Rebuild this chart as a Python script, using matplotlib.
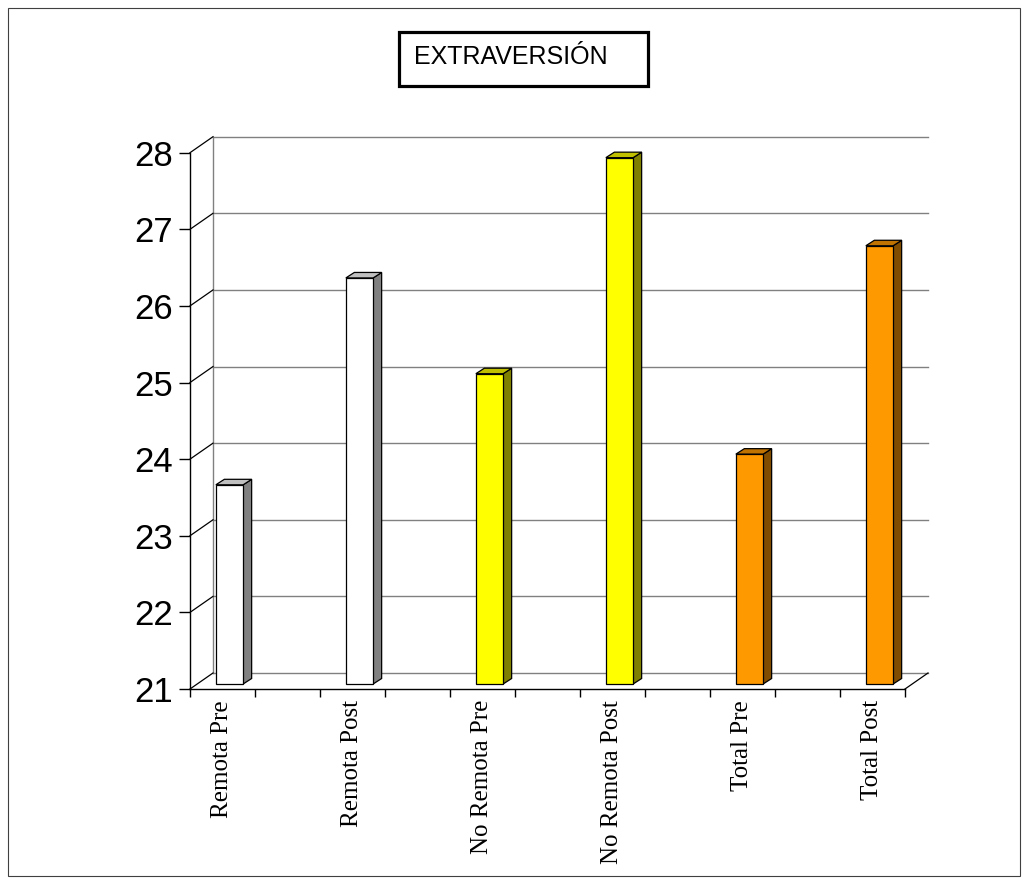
import numpy as np
import matplotlib
matplotlib.use("Agg")
import matplotlib.pyplot as plt
from matplotlib.patches import Rectangle, Polygon

# Chart data
categories = ["Remota Pre", "Remota Post", "No Remota Pre",
              "No Remota Post", "Total Pre", "Total Post"]
values = [23.6, 26.3, 25.05, 27.87, 24.0, 26.72]
y_ticks = [21, 22, 23, 24, 25, 26, 27, 28]
title = "EXTRAVERSIÓN"

# face colours per bar: (front, side, top)
palette = [
    ("#ffffff", "#808080", "#c0c0c0"),
    ("#ffffff", "#808080", "#c0c0c0"),
    ("#ffff00", "#808000", "#c0c000"),
    ("#ffff00", "#808000", "#c0c000"),
    ("#ff9900", "#804c00", "#c07300"),
    ("#ff9900", "#804c00", "#c07300"),
]

W, H, DPI = 1028, 884, 100
fig = plt.figure(figsize=(W / DPI, H / DPI), dpi=DPI)
fig.patch.set_facecolor("white")

# front plane of the 3-D box
ax = fig.add_axes([190 / W, 1 - 689 / H, 715 / W, 536.3 / H])
n_slots = 2 * len(categories) - 1
ax.set_xlim(0, n_slots)
ax.set_ylim(y_ticks[0], y_ticks[-1])
ax.set_facecolor("none")
for s in ("top", "right"):
    ax.spines[s].set_visible(False)
for s in ("left", "bottom"):
    ax.spines[s].set_color("black")
    ax.spines[s].set_linewidth(1.0)


def px(dx, dy):
    """Convert a pixel offset into data units of the axes."""
    p0 = ax.transData.transform((0, y_ticks[0]))
    q = ax.transData.inverted().transform(p0 + np.array([dx, dy]))
    return q[0] - 0, q[1] - y_ticks[0]


wall_dx, wall_dy = px(23, 16)
bar_dx, bar_dy = px(7, 5)
side_dx, side_dy = px(8.5, 5.5)

ymin, ymax = y_ticks[0], y_ticks[-1]

# back wall: gridlines and left edge
for v in y_ticks:
    ax.plot([wall_dx, n_slots + wall_dx], [v + wall_dy, v + wall_dy],
            color="#808080", lw=1.0, clip_on=False, zorder=0.5)
    # connectors from the value axis to the wall
    ax.plot([0, wall_dx], [v, v + wall_dy], color="black", lw=0.9,
            clip_on=False, zorder=0.6)
ax.plot([wall_dx, wall_dx], [ymin + wall_dy, ymax + wall_dy],
        color="#808080", lw=1.0, clip_on=False, zorder=0.5)
ax.plot([n_slots, n_slots + wall_dx], [ymin, ymin + wall_dy],
        color="black", lw=0.9, clip_on=False, zorder=0.6)

# bars
xpos = 2 * np.arange(len(categories)) + 0.5
bw = 0.42
vals = np.array(values)
front = ax.bar(xpos + bar_dx, vals - ymin, bottom=ymin + bar_dy, width=bw,
               color=[c[0] for c in palette], edgecolor="black",
               linewidth=0.9, zorder=3, clip_on=False)
for x, v, (fc, sc, tc) in zip(xpos + bar_dx, vals, palette):
    xl, xr = x - bw / 2, x + bw / 2
    yb, yt = ymin + bar_dy, v + bar_dy
    side = Polygon([(xr, yb), (xr + side_dx, yb + side_dy),
                    (xr + side_dx, yt + side_dy), (xr, yt)],
                   closed=True, facecolor=sc, edgecolor="black",
                   linewidth=0.9, zorder=2.9, clip_on=False)
    top = Polygon([(xl, yt), (xl + side_dx, yt + side_dy),
                   (xr + side_dx, yt + side_dy), (xr, yt)],
                  closed=True, facecolor=tc, edgecolor="black",
                  linewidth=0.9, zorder=2.9, clip_on=False)
    ax.add_patch(side)
    ax.add_patch(top)

# value axis ticks
ax.set_yticks(y_ticks)
ax.set_yticklabels([str(t) for t in y_ticks], fontsize=25,
                   family="Liberation Sans")
ax.tick_params(axis="y", length=8, width=1, pad=4.3, color="black")

# category axis: tick marks at slot borders, labels at bar centres
ax.set_xticks(np.arange(n_slots + 1))
ax.set_xticklabels([])
ax.tick_params(axis="x", which="major", length=5.8, width=1,
               color="black", direction="out")
ax.set_xticks(xpos, minor=True)
ax.set_xticklabels(categories, minor=True, rotation=90, fontsize=18,
                   family="Liberation Serif")
ax.tick_params(axis="x", which="minor", length=0, pad=8)

# title box
fig.patches.append(Rectangle((399 / W, 1 - 86 / H), 249 / W, 54 / H,
                             transform=fig.transFigure, fill=False,
                             edgecolor="black", linewidth=2.3))
fig.text(511 / W, 1 - 57 / H, title, ha="center", va="center",
         fontsize=18, family="Liberation Sans")

# outer frame
fig.patches.append(Rectangle((8 / W, 8 / H), 1012 / W, 868 / H,
                             transform=fig.transFigure, fill=False,
                             edgecolor="#404040", linewidth=0.8))

fig.savefig("out.png", dpi=DPI)
